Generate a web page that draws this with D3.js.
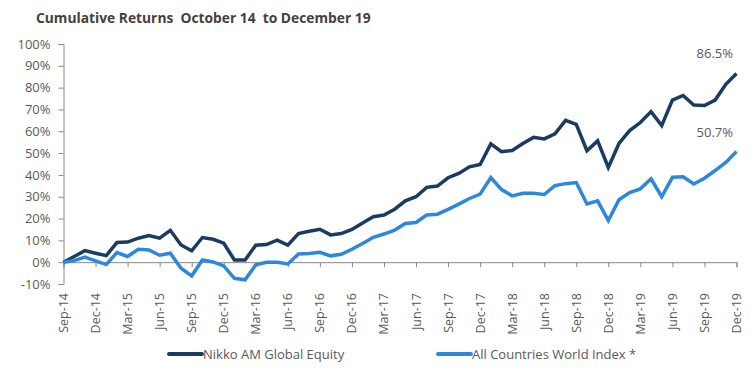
<!DOCTYPE html>
<html>
<head>
<meta charset="utf-8">
<script src="https://cdn.jsdelivr.net/npm/d3@7"></script>
<style>
  body { margin: 0; background: #fff; }
  svg { display: block; font-family: "Open Sans", sans-serif; }
</style>
</head>
<body>
<div id="chart"></div>
<script>
/*---------- DATA ----------*/
// Monthly observations, Sep-14 to Dec-19
let months = [
  "Sep-14", "Oct-14", "Nov-14", "Dec-14",
  "Jan-15", "Feb-15", "Mar-15", "Apr-15", "May-15", "Jun-15", "Jul-15", "Aug-15", "Sep-15", "Oct-15", "Nov-15", "Dec-15",
  "Jan-16", "Feb-16", "Mar-16", "Apr-16", "May-16", "Jun-16", "Jul-16", "Aug-16", "Sep-16", "Oct-16", "Nov-16", "Dec-16",
  "Jan-17", "Feb-17", "Mar-17", "Apr-17", "May-17", "Jun-17", "Jul-17", "Aug-17", "Sep-17", "Oct-17", "Nov-17", "Dec-17",
  "Jan-18", "Feb-18", "Mar-18", "Apr-18", "May-18", "Jun-18", "Jul-18", "Aug-18", "Sep-18", "Oct-18", "Nov-18", "Dec-18",
  "Jan-19", "Feb-19", "Mar-19", "Apr-19", "May-19", "Jun-19", "Jul-19", "Aug-19", "Sep-19", "Oct-19", "Nov-19", "Dec-19",
];

// Cumulative returns in percent
let nikko = [
  0, 2.6, 5.3, 4.1, 3, 9, 9.2, 11, 12.2, 11,
  14.6, 7.9, 5.2, 11.3, 10.5, 8.7, 1, 1, 7.8, 8.1,
  10.1, 7.8, 13.1, 14.2, 15.1, 12.5, 13.1, 15, 18, 20.8,
  21.6, 24.3, 28.1, 30, 34.3, 34.9, 38.7, 40.7, 43.7, 44.8,
  54.2, 50.6, 51.2, 54.4, 57.2, 56.5, 58.8, 65, 63.2, 51.1,
  55.6, 43.4, 54.4, 60.3, 64, 69, 62.6, 74.3, 76.4, 72,
  71.8, 74.3, 81.5, 86.5,
];
let acwi = [
  0, 0.7, 2.3, 0.6, -1.1, 4.4, 2.6, 5.9, 5.6, 3.2,
  4.1, -2.8, -6.3, 1, 0.1, -1.7, -7.4, -8.1, -1.2, 0,
  0, -0.8, 3.8, 4.0, 4.5, 2.9, 3.6, 5.9, 8.6, 11.4,
  12.9, 14.7, 17.7, 18.2, 21.6, 22, 24.2, 26.6, 29.2, 31.2,
  38.8, 33.3, 30.4, 31.6, 31.6, 31, 35.1, 36, 36.5, 26.7,
  28.1, 19.1, 28.6, 31.9, 33.6, 38.2, 30, 38.9, 39.1, 35.8,
  38.5, 42, 45.7, 50.7,
];

let seriesNames = ["Nikko AM Global Equity", "All Countries World Index *"];
let endLabels = ["86.5%", "50.7%"];
let yTicks = [-10, 0, 10, 20, 30, 40, 50, 60, 70, 80, 90, 100];
let xTicks = months.filter((_, i) => i % 3 === 0);

/*---------- SETUP ----------*/
let width = 756;
let height = 378;
let colors = ["#1b3b62", "#2b88dc"];
let textColor = "#595959";

let svg = d3
  .select("#chart")
  .append("svg")
  .attr("width", width)
  .attr("height", height);

// Scales
let x = d3.scalePoint().domain(months).range([63.5, 736.5]);
let y = d3.scaleLinear().domain([-10, 100]).range([284, 44]);

// Title
svg
  .append("text")
  .attr("x", 36)
  .attr("y", 23)
  .attr("font-size", "13.8px")
  .attr("font-weight", "bold")
  .attr("fill", "#454040")
  .attr("xml:space", "preserve")
  .text("Cumulative Returns  October 14  to December 19");

/*---------- AXES ----------*/
// Y axis with ticks pointing left
let yAxis = svg
  .append("g")
  .attr("transform", `translate(${x.range()[0]},0)`)
  .call(
    d3
      .axisLeft(y)
      .tickValues(yTicks)
      .tickSize(5)
      .tickPadding(8)
      .tickFormat((d) => d + "%")
  );
yAxis.select(".domain").attr("stroke", "#888");
yAxis.selectAll(".tick line").attr("stroke", "#888");
yAxis
  .selectAll(".tick text")
  .attr("fill", textColor)
  .attr("font-size", "13px")
  .attr("font-family", "Open Sans, sans-serif");

// X axis on the zero line, ticks pointing down
let xAxis = svg
  .append("g")
  .attr("transform", `translate(0,${y(0)})`)
  .call(d3.axisBottom(x).tickValues(xTicks).tickSize(5).tickFormat(""));
xAxis.select(".domain").attr("stroke", "#888");
xAxis.selectAll(".tick line").attr("stroke", "#888");

// Rotated month labels below the plot
svg
  .selectAll("text.month")
  .data(xTicks)
  .join("text")
  .attr("class", "month")
  .attr("transform", (d) => `translate(${x(d) + 4.5},293) rotate(-90)`)
  .attr("text-anchor", "end")
  .attr("font-size", "12.5px")
  .attr("fill", textColor)
  .text((d) => d);

/*---------- LINES ----------*/
let line = d3
  .line()
  .x((d, i) => x(months[i]))
  .y((d) => y(d));

svg
  .selectAll("path.series")
  .data([nikko, acwi])
  .join("path")
  .attr("class", "series")
  .attr("d", line)
  .attr("fill", "none")
  .attr("stroke", (_, i) => colors[i])
  .attr("stroke-width", 3.5)
  .attr("stroke-linejoin", "miter");

// End value labels
svg
  .selectAll("text.end")
  .data([nikko, acwi])
  .join("text")
  .attr("class", "end")
  .attr("x", 733)
  .attr("y", (d) => y(d[d.length - 1]) - 15)
  .attr("text-anchor", "end")
  .attr("font-size", "13px")
  .attr("fill", textColor)
  .text((_, i) => endLabels[i]);

/*---------- LEGEND ----------*/
let legendX = [169, 438];
let legend = svg
  .selectAll("g.legend")
  .data(seriesNames)
  .join("g")
  .attr("class", "legend")
  .attr("transform", (_, i) => `translate(${legendX[i]},354)`);

legend
  .append("line")
  .attr("x1", 0)
  .attr("x2", 33)
  .attr("stroke", (_, i) => colors[i])
  .attr("stroke-width", 4)
  .attr("stroke-linecap", "round");

legend
  .append("text")
  .attr("x", 34)
  .attr("y", 4.5)
  .attr("font-size", "13px")
  .attr("fill", textColor)
  .text((d) => d);
</script>
</body>
</html>
